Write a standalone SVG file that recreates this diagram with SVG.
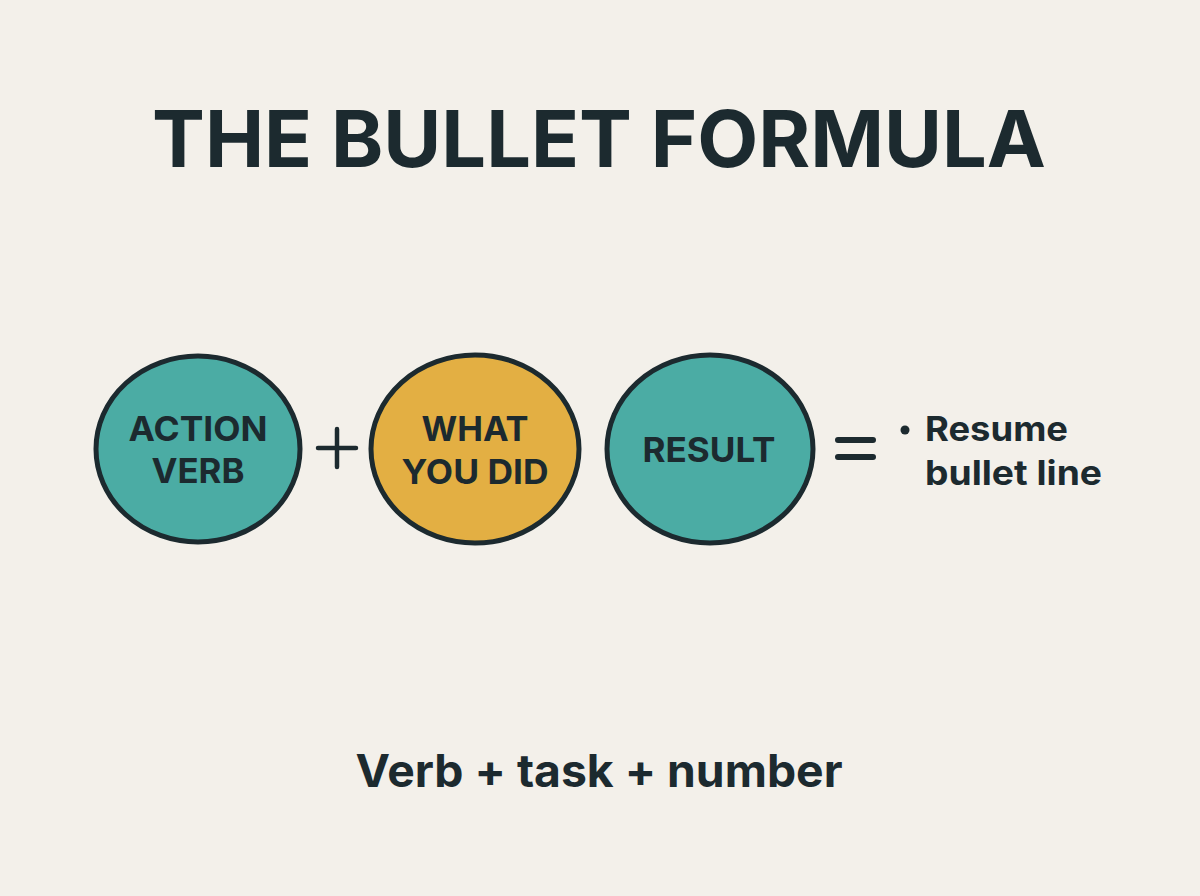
<svg xmlns="http://www.w3.org/2000/svg" width="1200" height="896" viewBox="0 0 1200 896">
<style>
.bg{fill:#F3F0EA}
.node{stroke:#1C2A2F;stroke-width:5}
.teal{fill:#4BACA4}
.gold{fill:#E3AF43}
.t{font-family:Inter,"Liberation Sans",sans-serif;font-weight:700;fill:#1C2A2F}
.lbl{font-size:34px;text-anchor:middle}
.op{stroke:#1C2A2F;stroke-width:4.5;stroke-linecap:round;fill:none}
.eq{stroke:#1C2A2F;stroke-width:6;stroke-linecap:round;fill:none}
</style>
<rect class="bg" width="1200" height="896"/>
<text class="t" x="599" y="167" font-size="79" font-weight="800" text-anchor="middle" textLength="894" lengthAdjust="spacingAndGlyphs">THE BULLET FORMULA</text>
<g id="action-verb">
<ellipse class="node teal" cx="198" cy="449" rx="102" ry="93"/>
<text class="t lbl" x="198" y="441" textLength="139" lengthAdjust="spacingAndGlyphs">ACTION</text>
<text class="t lbl" x="198" y="483" textLength="93" lengthAdjust="spacingAndGlyphs">VERB</text>
</g>
<g id="what-you-did">
<ellipse class="node gold" cx="475" cy="449" rx="104" ry="94"/>
<text class="t lbl" x="475" y="441" textLength="107" lengthAdjust="spacingAndGlyphs">WHAT</text>
<text class="t lbl" x="475" y="484" textLength="147" lengthAdjust="spacingAndGlyphs">YOU DID</text>
</g>
<g id="result">
<ellipse class="node teal" cx="710" cy="449" rx="103" ry="94"/>
<text class="t lbl" x="709" y="462" textLength="133" lengthAdjust="spacingAndGlyphs">RESULT</text>
</g>
<g id="connectors">
<path class="op" d="M318 448H356M337 429V467"/>
<path class="eq" d="M838 440H873M838 457H873"/>
</g>
<g id="output">
<circle cx="905" cy="430" r="4.5" fill="#1C2A2F"/>
<text class="t" x="925" y="441" font-size="34" textLength="143" lengthAdjust="spacingAndGlyphs">Resume</text>
<text class="t" x="925" y="485" font-size="34" textLength="177" lengthAdjust="spacingAndGlyphs">bullet line</text>
</g>
<text class="t" x="599" y="787" font-size="45" text-anchor="middle" textLength="487" lengthAdjust="spacingAndGlyphs">Verb + task + number</text>
</svg>
